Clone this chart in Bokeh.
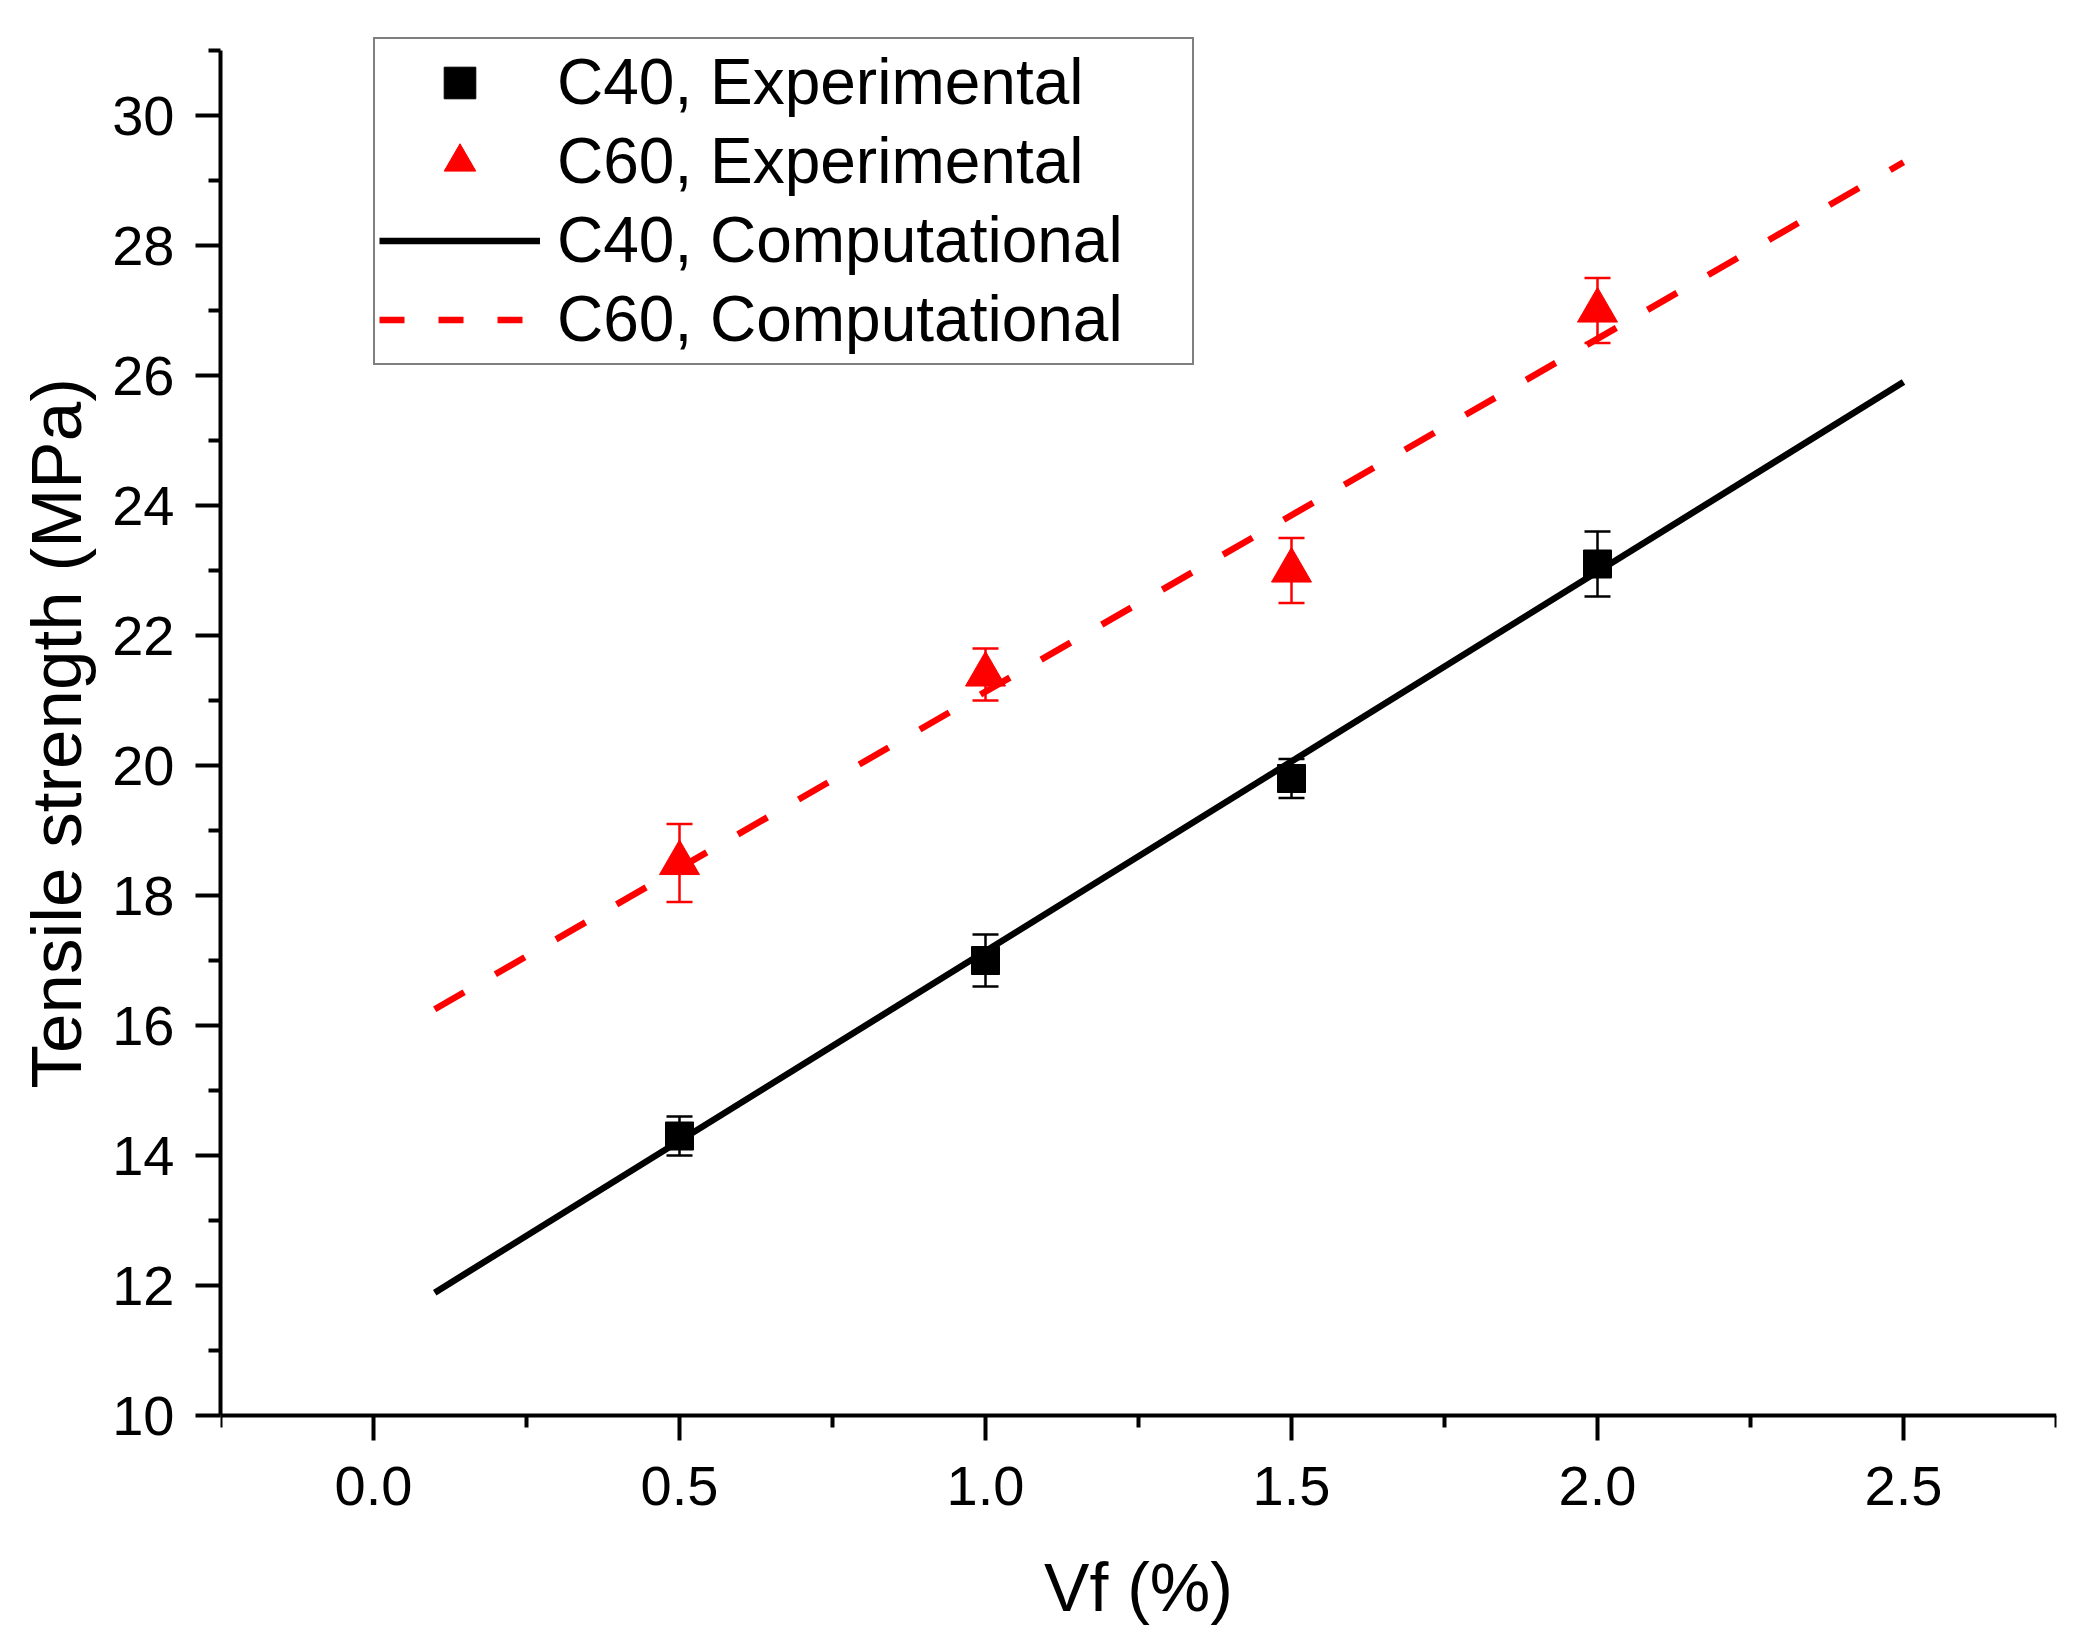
from bokeh.plotting import figure
from bokeh.models import (ColumnDataSource, Range1d, FixedTicker, Whisker, TeeHead,
                          Legend, LegendItem, Title)
from bokeh.embed import file_html
from bokeh.resources import INLINE

# ---- data ----
vf_exp = [0.5, 1.0, 1.5, 2.0]
c40_exp = [14.3, 17.0, 19.8, 23.1]
c40_err = [0.3, 0.4, 0.3, 0.5]
c60_exp = [18.5, 21.4, 23.0, 27.0]
c60_err = [0.6, 0.4, 0.5, 0.5]

vf_comp = [0.1, 2.5]
c40_comp = [11.89, 25.9]
c60_comp = [16.25, 29.28]

x_ticks = [0.0, 0.5, 1.0, 1.5, 2.0, 2.5]
x_tick_labels = ["0.0", "0.5", "1.0", "1.5", "2.0", "2.5"]
x_minor = [-0.25, 0.25, 0.75, 1.25, 1.75, 2.25, 2.75]
y_ticks = [10, 12, 14, 16, 18, 20, 22, 24, 26, 28, 30]
y_tick_labels = ["10", "12", "14", "16", "18", "20", "22", "24", "26", "28", "30"]
y_minor = [11, 13, 15, 17, 19, 21, 23, 25, 27, 29, 31]

labels = ["C40, Experimental", "C60, Experimental",
          "C40, Computational", "C60, Computational"]
x_label = "Vf (%)"
y_label = "Tensile strength (MPa)"

FONT = "Liberation Sans"
RED = "#ff0000"

# ---- layout ----
W, H = 2075, 1632
LEFT, RIGHT, TOP, BOTTOM = 220, 19, 34, 5
Y_AXIS_MIN, Y_AXIS_MAX = 10, 31
Y_PX = 65.0                      # pixels per y unit
AXIS_Y_PIX = 1415                # screen row of y = 10
YLABEL_BOTTOM = 1088             # screen row where the y label text starts
frame_bottom = H - BOTTOM
y_start = Y_AXIS_MIN - (frame_bottom - AXIS_Y_PIX) / Y_PX
y_end = Y_AXIS_MIN + (AXIS_Y_PIX - TOP) / Y_PX

p = figure(width=W, height=H,
           x_range=Range1d(-0.25, 2.75), y_range=Range1d(y_start, y_end),
           output_backend="svg", toolbar_location=None,
           min_border_left=LEFT, min_border_right=RIGHT,
           min_border_top=TOP, min_border_bottom=BOTTOM)
p.xgrid.visible = False
p.ygrid.visible = False
p.outline_line_color = None
p.background_fill_color = "white"
p.border_fill_color = "white"

p.xaxis.fixed_location = Y_AXIS_MIN
p.yaxis.bounds = (Y_AXIS_MIN, Y_AXIS_MAX)

p.xaxis.ticker = FixedTicker(ticks=x_ticks, minor_ticks=x_minor)
p.yaxis.ticker = FixedTicker(ticks=y_ticks, minor_ticks=y_minor)
p.xaxis.major_label_overrides = {t: l for t, l in zip(x_ticks, x_tick_labels)}
p.yaxis.major_label_overrides = {t: l for t, l in zip(y_ticks, y_tick_labels)}
p.xaxis.axis_label = x_label

for ax in (p.xaxis[0], p.yaxis[0]):
    ax.axis_line_width = 4
    ax.axis_line_color = "black"
    ax.major_tick_line_width = 4
    ax.minor_tick_line_width = 4
    ax.major_tick_line_color = "black"
    ax.minor_tick_line_color = "black"
    ax.major_tick_out = 25
    ax.major_tick_in = 0
    ax.minor_tick_out = 12
    ax.minor_tick_in = 0
    ax.major_label_text_font = FONT
    ax.major_label_text_font_size = "56px"
    ax.major_label_text_color = "black"
    ax.axis_label_text_font = FONT
    ax.axis_label_text_font_style = "normal"
    ax.axis_label_text_color = "black"

p.xaxis.axis_label_text_font_size = "68px"
p.xaxis.major_label_standoff = 26
p.xaxis.axis_label_standoff = 41
p.yaxis.major_label_standoff = 21

# y axis title, placed to match the reference's vertical position
ytitle = Title(text=y_label, align="left", vertical_align="bottom",
               offset=frame_bottom - YLABEL_BOTTOM, standoff=28,
               text_font=FONT, text_font_size="71px",
               text_font_style="normal", text_color="black")
p.add_layout(ytitle, "left")

# computational lines
p.line(vf_comp, c40_comp, line_color="black", line_width=6.5)
p.line(vf_comp, c60_comp, line_color=RED, line_width=6.5, line_dash="34 36")

# experimental points with error bars
src40 = ColumnDataSource(dict(x=vf_exp, y=c40_exp,
                              lo=[v - e for v, e in zip(c40_exp, c40_err)],
                              up=[v + e for v, e in zip(c40_exp, c40_err)]))
src60 = ColumnDataSource(dict(x=vf_exp, y=c60_exp,
                              lo=[v - e for v, e in zip(c60_exp, c60_err)],
                              up=[v + e for v, e in zip(c60_exp, c60_err)]))

for src, col in ((src40, "black"), (src60, RED)):
    w = Whisker(base="x", upper="up", lower="lo", source=src,
                line_color=col, line_width=2.5,
                upper_head=TeeHead(size=26, line_color=col, line_width=2.5),
                lower_head=TeeHead(size=26, line_color=col, line_width=2.5),
                level="glyph")
    p.add_layout(w)

r_sq = p.scatter("x", "y", source=src40, marker="square", size=28,
                 fill_color="black", line_color="black")
r_tri = p.scatter("x", "y", source=src60, marker="triangle", size=40,
                  fill_color=RED, line_color=RED)

# legend-only renderers (no visible data)
nan = float("nan")
r_l40 = p.line([nan], [nan], line_color="black", line_width=6.5)
r_l60 = p.line([nan], [nan], line_color=RED, line_width=6.5, line_dash="25 34")

LEG_LEFT, LEG_BOTTOM = 373, 364.5
legend = Legend(items=[LegendItem(label=labels[0], renderers=[r_sq]),
                       LegendItem(label=labels[1], renderers=[r_tri]),
                       LegendItem(label=labels[2], renderers=[r_l40]),
                       LegendItem(label=labels[3], renderers=[r_l60])],
                location=(LEG_LEFT - LEFT, frame_bottom - LEG_BOTTOM),
                label_text_font=FONT, label_text_font_size="64px",
                label_text_color="black",
                glyph_width=161, glyph_height=79, label_height=79,
                label_width=631,
                spacing=0, padding=4, margin=0, label_standoff=17,
                border_line_color="black", border_line_width=2,
                background_fill_color="white", background_fill_alpha=1.0)
p.add_layout(legend, "center")

open("out.html", "w").write(file_html(p, INLINE))
